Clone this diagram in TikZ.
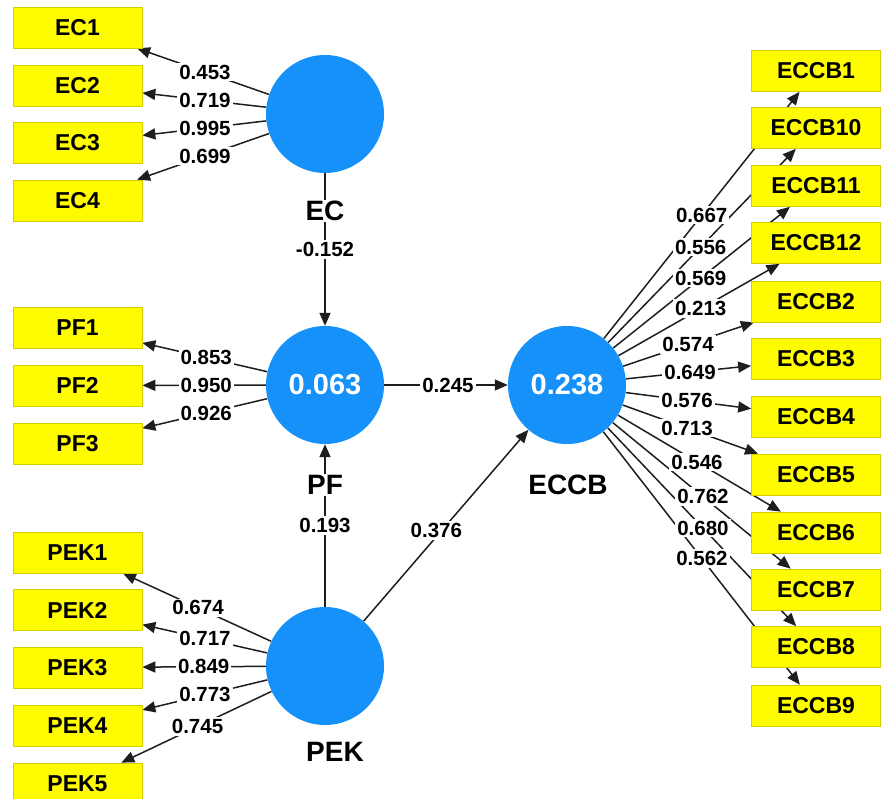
\documentclass[tikz,border=0pt]{standalone}
\usepackage{fontspec}
\setmainfont{Liberation Sans}
\usetikzlibrary{arrows.meta,calc,backgrounds}
\definecolor{boxyellow}{RGB}{255,252,0}
\definecolor{boxedge}{RGB}{210,205,0}
\definecolor{lvblue}{RGB}{22,145,250}
\definecolor{linecol}{RGB}{30,30,30}
\begin{document}
\begin{tikzpicture}[x=1pt,y=-1pt,
  ind/.style={rectangle,fill=boxyellow,draw=boxedge,line width=0.7pt,minimum width=129pt,minimum height=41pt,inner sep=0pt,font=\fontsize{23}{25}\selectfont\bfseries},
  lv/.style={circle,fill=lvblue,minimum size=118pt,inner sep=0pt,text=white,font=\fontsize{29}{31}\selectfont\bfseries},
  arr/.style={draw=linecol,line width=1.5pt,-{Triangle[length=13pt,width=11pt]}},
  coef/.style={fill=white,inner sep=2pt,font=\fontsize{20.5}{22}\selectfont\bfseries},
  lvname/.style={fill=white,inner sep=1.5pt,font=\fontsize{28}{30}\selectfont\bfseries}]
\useasboundingbox (0,0) rectangle (882,799);
% latent variables
\node[lv] (ec) at (325,114) {};
\node[lv] (pf) at (325,385) {0.063};
\node[lv] (eccb) at (567,385) {0.238};
\node[lv] (pek) at (325,666) {};
% left indicators
\node[ind] (ec1) at (77.5,27.5) {EC1};
\node[ind] (ec2) at (77.5,85.5) {EC2};
\node[ind] (ec3) at (77.5,143) {EC3};
\node[ind] (ec4) at (77.5,200.5) {EC4};
\node[ind] (pf1) at (77.5,328) {PF1};
\node[ind] (pf2) at (77.5,385.5) {PF2};
\node[ind] (pf3) at (77.5,443.5) {PF3};
\node[ind] (pek1) at (77.5,552.5) {PEK1};
\node[ind] (pek2) at (77.5,610) {PEK2};
\node[ind] (pek3) at (77.5,667.5) {PEK3};
\node[ind] (pek4) at (77.5,725.5) {PEK4};
\node[ind] (pek5) at (77.5,783.5) {PEK5};
% right indicators
\node[ind] (b1) at (816,71) {ECCB1};
\node[ind] (b10) at (816,128) {ECCB10};
\node[ind] (b11) at (816,186) {ECCB11};
\node[ind] (b12) at (816,243) {ECCB12};
\node[ind] (b2) at (816,301.5) {ECCB2};
\node[ind] (b3) at (816,359) {ECCB3};
\node[ind] (b4) at (816,417) {ECCB4};
\node[ind] (b5) at (816,474.5) {ECCB5};
\node[ind] (b6) at (816,532.5) {ECCB6};
\node[ind] (b7) at (816,589.5) {ECCB7};
\node[ind] (b8) at (816,647) {ECCB8};
\node[ind] (b9) at (816,705.5) {ECCB9};
% connectors
\begin{pgfonlayer}{background}
\foreach \t in {ec1,ec2,ec3,ec4} \draw[arr] (ec) -- (\t);
\foreach \t in {pf1,pf2,pf3} \draw[arr] (pf) -- (\t);
\foreach \t in {pek1,pek2,pek3,pek4,pek5} \draw[arr] (pek) -- (\t);
\foreach \t in {b1,b10,b11,b12,b2,b3,b4,b5,b6,b7,b8,b9} \draw[arr] (eccb) -- (\t);
\draw[arr] (ec) -- (pf);
\draw[arr] (pek) -- (pf);
\draw[arr] (pf) -- (eccb);
\draw[arr] (pek) -- (eccb);
\end{pgfonlayer}
% latent names
\node[lvname] (ecname) at (325,211) {EC};
\node[lvname] (pfname) at (325,485) {PF};
\node[lvname] (eccbname) at (568,485) {ECCB};
\node[lvname] (pekname) at (335,752) {PEK};
% coefficients
\node[coef] at ($(ec)!0.485!(ec1)$) {0.453};
\node[coef] at ($(ec)!0.485!(ec2)$) {0.719};
\node[coef] at ($(ec)!0.485!(ec3)$) {0.995};
\node[coef] at ($(ec)!0.485!(ec4)$) {0.699};
\node[coef] at ($(pf)!0.48!(pf1)$) {0.853};
\node[coef] at ($(pf)!0.48!(pf2)$) {0.950};
\node[coef] at ($(pf)!0.48!(pf3)$) {0.926};
\node[coef] at ($(pek)!0.513!(pek1)$) {0.674};
\node[coef] at ($(pek)!0.485!(pek2)$) {0.717};
\node[coef] at ($(pek)!0.49!(pek3)$) {0.849};
\node[coef] at ($(pek)!0.485!(pek4)$) {0.773};
\node[coef] at ($(pek)!0.515!(pek5)$) {0.745};
\node[coef] at ($(eccb)!0.541!(b1)$) {0.667};
\node[coef] at ($(eccb)!0.537!(b10)$) {0.556};
\node[coef] at ($(eccb)!0.537!(b11)$) {0.569};
\node[coef] at ($(eccb)!0.537!(b12)$) {0.213};
\node[coef] at ($(eccb)!0.486!(b2)$) {0.574};
\node[coef] at ($(eccb)!0.494!(b3)$) {0.649};
\node[coef] at ($(eccb)!0.482!(b4)$) {0.576};
\node[coef] at ($(eccb)!0.482!(b5)$) {0.713};
\node[coef] at ($(eccb)!0.522!(b6)$) {0.546};
\node[coef] at ($(eccb)!0.546!(b7)$) {0.762};
\node[coef] at ($(eccb)!0.546!(b8)$) {0.680};
\node[coef] at ($(eccb)!0.542!(b9)$) {0.562};
\node[coef] at ($(ec)!0.5!(pf)$) {-0.152};
\node[coef] at ($(pek)!0.5!(pf)$) {0.193};
\node[coef] at ($(pf)!0.508!(eccb)$) {0.245};
\node[coef,yshift=6pt] at ($(pek)!0.46!(eccb)$) {0.376};
\end{tikzpicture}
\end{document}
